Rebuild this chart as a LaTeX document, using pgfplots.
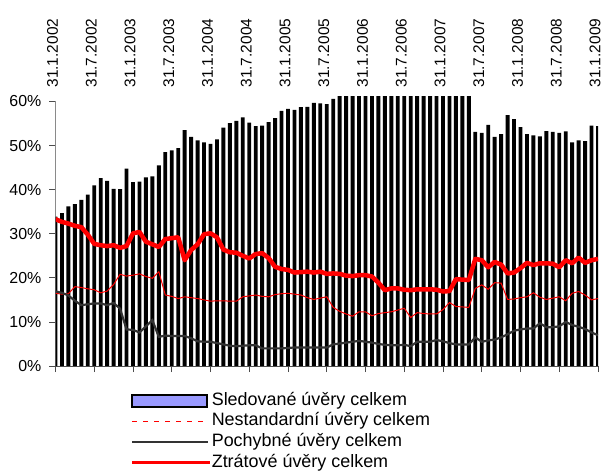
\documentclass[border=0pt]{standalone}
\usepackage{fontspec}
\setmainfont{Liberation Sans}
\usepackage{pgfplots}
\pgfplotsset{compat=1.18}
\usepackage{pgfplotstable}
\definecolor{legblue}{HTML}{9999FF}
\definecolor{dgray}{HTML}{333333}
\pgfplotstableread{
x s n p z
0 33.9 16.5 16.9 33.3
1 34.7 16.3 16.6 32.7
2 36.2 16.4 16.0 32.3
3 36.7 18.0 14.8 31.8
4 37.7 17.8 13.8 31.5
5 38.9 17.5 14.0 29.8
6 41.0 17.3 14.2 27.7
7 42.6 16.6 14.2 27.4
8 42.0 17.0 13.8 27.2
9 40.2 18.5 14.3 27.4
10 40.1 20.8 13.0 26.8
11 44.8 20.4 8.3 27.2
12 41.7 20.6 8.2 30.1
13 41.8 20.9 7.6 30.4
14 42.8 20.3 9.0 28.2
15 43.0 19.9 10.4 27.6
16 45.5 21.4 6.6 27.0
17 48.5 16.1 6.9 28.8
18 48.9 15.8 6.8 29.0
19 49.4 15.3 6.8 29.2
20 53.5 15.7 6.8 24.0
21 52.0 15.5 6.3 26.3
22 51.2 15.3 5.6 27.6
23 50.7 15.0 5.5 29.9
24 50.4 14.7 5.5 30.1
25 51.4 14.8 5.2 29.2
26 54.1 14.8 4.9 26.4
27 55.1 14.7 4.6 25.8
28 55.6 14.7 4.5 25.7
29 56.4 15.7 4.6 25.0
30 55.2 15.9 4.7 24.4
31 54.4 16.1 4.7 25.4
32 54.5 15.8 4.0 25.6
33 55.3 15.7 4.0 24.5
34 56.2 16.2 4.0 22.5
35 57.9 16.4 4.0 22.0
36 58.3 16.5 4.1 21.8
37 58.1 16.3 4.2 21.2
38 58.7 16.1 4.2 21.3
39 58.8 15.5 4.2 21.4
40 59.7 15.1 4.2 21.2
41 59.6 15.4 4.2 21.4
42 59.4 15.7 4.2 20.9
43 60.6 13.3 4.9 21.0
44 62.0 12.4 5.1 20.9
45 62.3 11.8 5.3 20.5
46 62.5 11.3 5.5 20.4
47 62.6 12.3 5.7 20.6
48 62.8 12.3 5.5 20.6
49 63.0 11.4 5.3 20.3
50 63.1 11.9 5.0 18.9
51 63.3 12.1 4.8 17.2
52 63.5 12.3 4.7 17.6
53 63.6 12.7 4.7 17.6
54 63.8 13.1 4.8 17.3
55 64.0 11.0 4.5 17.2
56 64.1 12.1 5.5 17.4
57 64.3 11.9 5.5 17.4
58 64.5 11.8 5.5 17.4
59 64.6 11.8 5.9 17.3
60 64.8 12.8 5.6 16.9
61 65.0 14.4 5.2 17.0
62 65.1 13.5 4.9 19.7
63 65.3 13.4 4.9 19.6
64 65.5 13.3 4.9 19.5
65 53.1 17.6 6.5 24.3
66 52.9 18.4 5.5 24.0
67 54.7 17.4 5.8 22.4
68 52.0 18.9 6.0 23.6
69 52.6 18.8 6.5 23.0
70 56.9 15.1 7.2 21.0
71 56.0 15.2 8.0 21.2
72 54.2 15.5 8.3 22.2
73 52.6 15.7 8.5 23.4
74 52.3 16.6 8.5 22.9
75 52.1 15.6 9.7 23.3
76 53.3 15.1 8.8 23.3
77 53.1 15.4 8.8 23.2
78 52.9 15.7 9.0 22.4
79 53.2 14.8 10.0 24.0
80 50.7 16.5 9.3 23.3
81 51.2 16.9 8.9 24.6
82 51.0 16.1 8.4 23.4
83 54.5 15.0 7.6 24.0
84 54.4 15.3 7.0 24.3
}\data

\begin{document}
\begin{tikzpicture}
\begin{axis}[
  scale only axis, width=542.5bp, height=269.8bp,
  xmin=0, xmax=84, ymin=0, ymax=61.2,
  axis line style={draw=none},
  xtick={0,6,...,84},
  xticklabels={31.1.2002,31.7.2002,31.1.2003,31.7.2003,31.1.2004,31.7.2004,31.1.2005,31.7.2005,31.1.2006,31.7.2006,31.1.2007,31.7.2007,31.1.2008,31.7.2008,31.1.2009},
  xtick pos=bottom, xticklabel pos=upper,
  ytick={0,10,...,60},
  yticklabels={0\%,10\%,20\%,30\%,40\%,50\%,60\%},
  ytick pos=left,
  tick align=outside,
  major tick length=6bp,
  tick style={black!70, line width=0.8bp},
  xticklabel style={rotate=90, anchor=west, inner sep=0pt, font=\fontsize{15.5}{16}\selectfont, xshift=2.5bp, yshift=3bp},
  yticklabel style={anchor=east, inner sep=0pt, font=\fontsize{16}{16}\selectfont, xshift=-8bp},
  legend style={at={(0.132,-0.091)}, anchor=north west, draw=none, fill=none,
    font=\fontsize{18}{19}\selectfont, row sep=4.6bp, column sep=0bp,
    nodes={inner sep=0pt, text height=12.5bp, text depth=3.5bp}},
  legend cell align=left,
]
\addplot[ybar, bar width=0.6, fill=black, draw=none,
  legend image code/.code={\draw[fill=legblue, draw=black, line width=1.6bp] (0bp,-6bp) rectangle (75bp,6bp);}]
  table[x=x,y=s]{\data};
\addlegendentry{Sledované úvěry celkem}
\addplot[red, line width=1bp, mark=none,
  legend image code/.code={\draw[draw=red, line width=1.2bp, dash pattern=on 5bp off 6bp] (0bp,0bp) -- (75bp,0bp);}]
  table[x=x,y=n]{\data};
\addlegendentry{Nestandardní úvěry celkem}
\addplot[dgray, line width=2.2bp, mark=none,
  legend image code/.code={\draw[draw=dgray, line width=2bp] (0bp,0bp) -- (76bp,0bp);}]
  table[x=x,y=p]{\data};
\addlegendentry{Pochybné úvěry celkem}
\addplot[red, line width=4.5bp, mark=none, line join=round,
  legend image code/.code={\draw[draw=red, line width=3.5bp] (0bp,0bp) -- (78bp,0bp);}]
  table[x=x,y=z]{\data};
\addlegendentry{Ztrátové úvěry celkem}
\draw[black!70, line width=0.8bp] (axis cs:0,60) -- (axis cs:0,0) -- (axis cs:84,0);
\coordinate (O) at (axis cs:0,0);
\coordinate (T) at (axis cs:84,60);
\end{axis}
\path (O) ++(-55.5bp,-104bp) coordinate (BL);
\path (T) ++(5bp,101.5bp) coordinate (TR);
\pgfresetboundingbox
\useasboundingbox (BL) rectangle (TR);
\end{tikzpicture}
\end{document}
